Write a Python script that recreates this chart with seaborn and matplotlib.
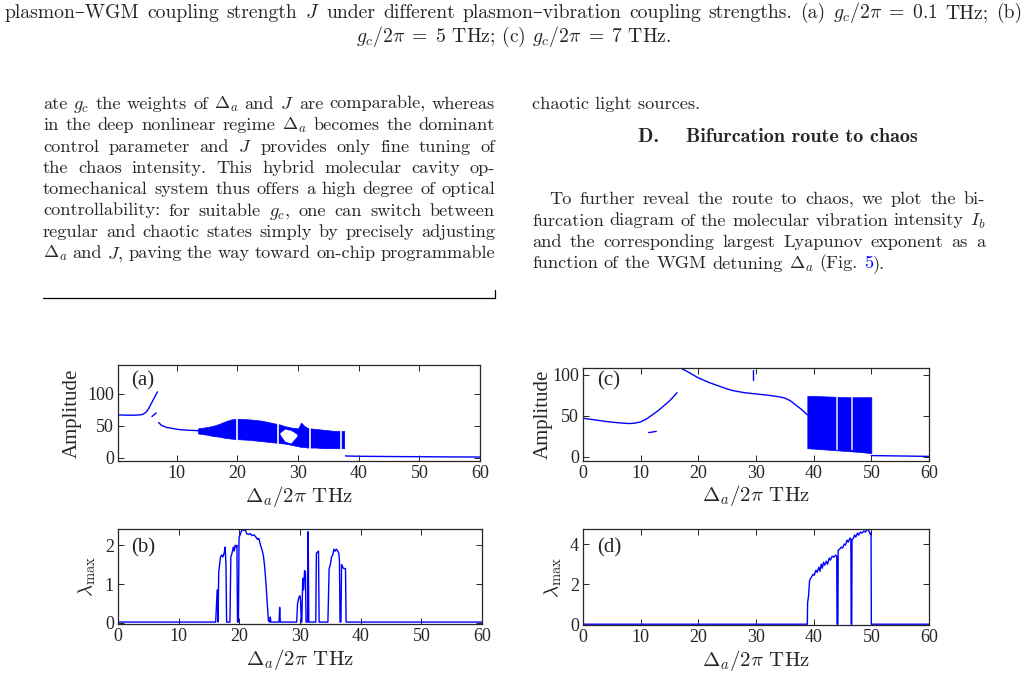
import numpy as np
import pandas as pd
import seaborn as sns
import matplotlib.pyplot as plt
from matplotlib.lines import Line2D
from matplotlib.transforms import IdentityTransform

W, H = 1028, 678

# ---- (a) bifurcation, g_c small ----
a_b1_x = [0.3, 1, 2, 3, 3.9, 4.4, 4.9, 5.3, 5.8, 6.3, 6.8]
a_b1_y = [67, 66.8, 66.6, 66.6, 67, 68, 71, 76, 85, 94, 103]
a_seg_x = [5.9, 6.6]
a_seg_y = [64.5, 70]
a_b2_x = [7.0, 7.5, 8.3, 9.5, 10.5, 12, 13.3, 14]
a_b2_y = [55, 50.5, 47.5, 45.5, 44, 43, 42.5, 42]
a_band_x = [13.5, 15, 16, 17, 18, 19, 19.8, 20.2, 22, 24, 25, 26, 27, 28, 29, 30, 30.5, 31, 31.5, 32, 33, 34, 35, 36, 37, 37.6]
a_band_hi = [46, 48, 50, 53, 57, 60, 61, 61, 60, 58, 56, 54, 52, 49, 47, 46, 55, 50, 47, 46, 45, 44, 43, 42, 42, 42]
a_band_lo = [38, 36, 34, 33, 31, 30, 29, 29, 28, 26, 25, 24, 23, 22, 20, 18, 17, 17, 16, 16, 16, 15, 15, 15, 15, 15]
a_hole_x = [27.0, 27.8, 28.8, 29.8]
a_hole_lo = [37, 26, 23, 34]
a_hole_hi = [39, 45, 43, 37]
a_windows = [19.95, 26.7, 31.9, 37.1]
a_tail_x = [37.8, 38, 40, 45, 50, 55, 60]
a_tail_y = [3, 2.8, 2.4, 2.0, 1.7, 1.4, 1.2]

# ---- (b) largest Lyapunov exponent ----
b_x = [0, 16.1, 16.35, 16.5, 16.6, 16.9, 17.1, 17.3, 17.5, 17.66, 17.8, 17.9,
       18.45, 18.6, 18.8, 19.0, 19.15, 19.3, 19.5, 19.6, 19.7,
       19.85, 19.95, 20.2, 20.4, 20.8, 21.0, 21.2, 21.5, 21.8, 22.1, 22.4, 22.7, 23.0, 23.2,
       23.5, 23.8, 24.0, 24.2, 24.4, 24.6, 24.8, 25.0, 25.1, 25.2, 26.55, 26.65, 26.75,
       29.45, 29.6, 29.8, 30.0, 30.1, 30.2, 30.3, 30.45, 30.6, 30.75, 30.9, 31.0,
       31.25, 31.35, 31.45, 32.6, 32.7, 32.9, 33.05, 33.15,
       34.6, 34.8, 35.0, 35.2, 35.4, 35.6, 35.8, 36.0, 36.2, 36.4, 36.5, 36.6,
       36.75, 36.85, 37.0, 37.2, 37.5, 37.6, 60]
b_y = [0.02, 0.02, 0.85, 0.02, 1.3, 1.7, 1.75, 1.7, 1.8, 1.95, 1.5, 0.02,
       0.02, 1.7, 1.8, 1.95, 1.85, 2.0, 1.95, 2.0, 0.02,
       0.02, 2.2, 2.3, 2.4, 2.38, 2.42, 2.3, 2.28, 2.3, 2.25, 2.27, 2.22, 2.15, 2.18,
       2.0, 1.85, 1.7, 1.4, 1.0, 0.5, 0.05, 0.02, 0.15, 0.02, 0.02, 0.4, 0.02,
       0.02, 0.5, 0.65, 0.7, 0.55, 0.02, 0.02, 1.15, 0.85, 1.35, 1.3, 0.02,
       0.02, 2.35, 0.02, 0.02, 1.8, 1.82, 1.85, 0.02,
       0.02, 1.4, 1.5, 1.7, 1.75, 1.9, 1.85, 1.9, 1.85, 1.8, 1.6, 0.02,
       0.02, 1.5, 1.45, 1.4, 1.4, 0.02, 0.02]

# ---- (c) bifurcation, g_c large ----
c_b1_x = [0, 2, 4, 6, 8, 9, 10, 11, 12, 13, 14, 15, 15.8, 16.3]
c_b1_y = [47, 45, 43, 41.5, 40.5, 41, 42.5, 46, 51, 56, 62, 68, 74, 78]
c_seg_x = [11.4, 12.7]
c_seg_y = [29.5, 31]
c_b2_x = [16.4, 18, 20, 22, 24, 25, 26, 28, 30, 32, 34, 35, 36, 37, 38, 38.9]
c_b2_y = [110, 104, 96, 90, 85, 82.5, 80.5, 78, 76.5, 75, 73, 71.5, 68, 62.5, 57, 51]
c_tick_x = [29.5, 29.5]
c_tick_y = [94, 106]
c_band_x = [38.9, 40, 42, 44, 46, 48, 50]
c_band_hi = [74, 74, 73.5, 73, 72.5, 72.5, 72.5]
c_band_lo = [10.5, 10, 9, 8, 7, 6, 4.5]
c_windows = [44.0, 46.6]
c_tail_x = [50, 52, 55, 60]
c_tail_y = [1.6, 1.4, 1.1, 0.6]

# ---- (d) largest Lyapunov exponent ----
d_x = [0, 38.9, 38.95, 39.1, 39.3, 39.6, 39.9, 40.1, 40.4, 40.6, 40.9, 41.1, 41.3, 41.5, 41.7,
       41.9, 42.2, 42.4, 42.7, 42.9, 43.2, 43.5, 43.8, 44.0, 44.05, 44.2, 44.25, 44.5, 44.8,
       45.0, 45.3, 45.5, 45.8, 46.0, 46.3, 46.45, 46.5, 46.6, 46.65, 46.9, 47.1, 47.3, 47.6,
       47.8, 48.1, 48.4, 48.7, 49.0, 49.3, 49.6, 49.8, 49.95, 50.0, 60]
d_y = [0.02, 0.02, 1.1, 1.4, 2.2, 2.35, 2.5, 2.45, 2.7, 2.6, 2.85, 2.65, 3.0, 2.8, 3.1,
       2.95, 3.15, 3.0, 3.3, 3.2, 3.4, 3.35, 3.45, 3.4, 0.02, 0.02, 3.7, 3.75, 3.85,
       3.8, 4.0, 3.95, 4.2, 4.1, 4.3, 4.25, 0.02, 0.02, 4.2, 4.3, 4.45, 4.35, 4.55,
       4.45, 4.6, 4.55, 4.65, 4.6, 4.75, 4.65, 4.5, 4.55, 0.02, 0.02]

# ---- page text ----
caption1 = ['plasmon\u2013WGM', 'coupling', 'strength', '$J$', 'under', 'different',
            'plasmon\u2013vibration', 'coupling', 'strengths.', '(a)', '$g_c/2\\pi\\;=\\;0.1$',
            'THz;', '(b)']
caption2 = '$g_c/2\\pi\\;=\\;5$ THz; (c) $g_c/2\\pi\\;=\\;7$ THz.'
left_lines = [
    'ate $g_c$ the weights of $\\Delta_a$ and $J$ are comparable, whereas',
    'in the deep nonlinear regime $\\Delta_a$ becomes the dominant',
    'control parameter and $J$ provides only fine tuning of',
    'the chaos intensity. This hybrid molecular cavity op-',
    'tomechanical system thus offers a high degree of optical',
    'controllability: for suitable $g_c$, one can switch between',
    'regular and chaotic states simply by precisely adjusting',
    '$\\Delta_a$ and $J$, paving the way toward on-chip programmable',
]
right_lines = [
    'To further reveal the route to chaos, we plot the bi-',
    'furcation diagram of the molecular vibration intensity $I_b$',
    'and the corresponding largest Lyapunov exponent as a',
]

sns.set_style('ticks')
plt.rcParams['font.family'] = ['Liberation Serif', 'DejaVu Serif']
plt.rcParams['mathtext.fontset'] = 'cm'
plt.rcParams['axes.edgecolor'] = '#262626'
plt.rcParams['xtick.color'] = '#262626'
plt.rcParams['ytick.color'] = '#262626'

fig = plt.figure(figsize=(W / 100, H / 100), dpi=100)
rend = fig.canvas.get_renderer()
CM = ['cmr10', 'DejaVu Serif']


def put(x, y, s, size=13.2, **kw):
    kw.setdefault('family', CM)
    return fig.text(x, H - y, s, fontsize=size, transform=IdentityTransform(),
                    va='baseline', **kw)


def put_words(words, x0, x1, y, size=13.2, justify=True):
    arts = [put(0, y, w, size) for w in words]
    widths = [a.get_window_extent(rend).width for a in arts]
    gap = size * 100 / 72 * 0.333
    if justify:
        gap = max(gap * 0.6, (x1 - x0 - sum(widths)) / (len(words) - 1))
    x = x0
    for a, w in zip(arts, widths):
        a.set_x(x)
        x += w + gap
    return arts


# caption
put_words(caption1, 5, 1022, 18, size=14.2)
put(514, 42, caption2, size=14.2, ha='center')

# left column
for i, line in enumerate(left_lines):
    put_words(line.split(), 43, 495, 109 + 21.3 * i)
fig.add_artist(Line2D([43 / W, 495 / W], [1 - 298 / H, 1 - 298 / H], color='black', lw=0.9))
fig.add_artist(Line2D([495 / W, 495 / W], [1 - 298 / H, 1 - 290 / H], color='black', lw=0.9))

# right column
put(532, 109, 'chaotic light sources.')
put(778, 142, 'D.    Bifurcation route to chaos', size=14.5, ha='center',
    family=['cmb10', 'DejaVu Serif'])
put_words(right_lines[0].split(), 549, 985, 204)
put_words(right_lines[1].split(), 532, 985, 225.5)
put_words(right_lines[2].split(), 532, 985, 247)
last = put_words('function of the WGM detuning $\\Delta_a$ (Fig.'.split(), 532, 985, 268.5, justify=False)
xe = last[-1].get_window_extent(rend).x1 + 13.2 * 100 / 72 * 0.333
five = put(xe, 268.5, '5', color='blue')
put(five.get_window_extent(rend).x1, 268.5, ').')


def make_ax(l, t, r, b):
    return fig.add_axes([l / W, 1 - b / H, (r - l) / W, (b - t) / H])


def curve(ax, x, y):
    sns.lineplot(x=x, y=y, ax=ax, color='blue', lw=1.0, sort=False, estimator=None)


def style(ax, xlim, ylim, xt, yt, ylab, lab, ylab_x, lab_xy):
    ax.set_xlim(*xlim)
    ax.set_ylim(*ylim)
    ax.set_xticks(xt)
    ax.set_yticks(yt)
    ax.tick_params(direction='in', length=4, width=0.7, labelsize=13,
                   top=True, right=True, pad=3)
    for sp in ax.spines.values():
        sp.set_visible(True)
        sp.set_linewidth(0.9)
    ax.set_xlabel('$\\Delta_a/2\\pi$ THz', fontsize=15, family=CM)
    ax.xaxis.label.set_va('center')
    ax.xaxis.set_label_coords(0.5, -0.37)
    ax.set_ylabel(ylab, fontsize=15)
    ax.yaxis.label.set_va('center')
    ax.yaxis.set_label_coords(ylab_x, 0.5)
    ax.text(lab_xy[0], lab_xy[1], lab, transform=ax.transAxes, fontsize=15, va='center')


ax_a = make_ax(118, 365, 480, 461)
curve(ax_a, a_b1_x, a_b1_y)
curve(ax_a, a_seg_x, a_seg_y)
curve(ax_a, a_b2_x, a_b2_y)
ax_a.fill_between(a_band_x, a_band_lo, a_band_hi, color='blue', lw=0.5)
ax_a.fill_between(a_hole_x, a_hole_lo, a_hole_hi, color='white', lw=0)
ax_a.vlines(a_windows, 10, 65, color='white', lw=1.2)
curve(ax_a, a_tail_x, a_tail_y)
style(ax_a, (0.3, 60), (-5, 145), [10, 20, 30, 40, 50, 60], [0, 50, 100],
      'Amplitude', '(a)', -0.127, (0.035, 0.84))

ax_b = make_ax(118, 529, 482, 624)
curve(ax_b, b_x, b_y)
style(ax_b, (0, 60), (-0.03, 2.42), [0, 10, 20, 30, 40, 50, 60], [0, 1, 2],
      '$\\lambda_{\\max}$', '(b)', -0.085, (0.035, 0.8))

ax_c = make_ax(583, 368, 929, 461)
curve(ax_c, c_b1_x, c_b1_y)
curve(ax_c, c_seg_x, c_seg_y)
curve(ax_c, c_b2_x, c_b2_y)
curve(ax_c, c_tick_x, c_tick_y)
ax_c.fill_between(c_band_x, c_band_lo, c_band_hi, color='blue', lw=0.5)
ax_c.vlines(c_windows, 8, 73, color='#d8d8ff', lw=1.2)
curve(ax_c, c_tail_x, c_tail_y)
style(ax_c, (0, 60), (-5, 108), [0, 10, 20, 30, 40, 50, 60], [0, 50, 100],
      'Amplitude', '(c)', -0.116, (0.04, 0.86))

ax_d = make_ax(583, 529, 929, 625)
curve(ax_d, d_x, d_y)
style(ax_d, (0, 60), (-0.02, 4.75), [0, 10, 20, 30, 40, 50, 60], [0, 2, 4],
      '$\\lambda_{\\max}$', '(d)', -0.087, (0.04, 0.8))

fig.savefig('out.png', dpi=100, facecolor='white')
